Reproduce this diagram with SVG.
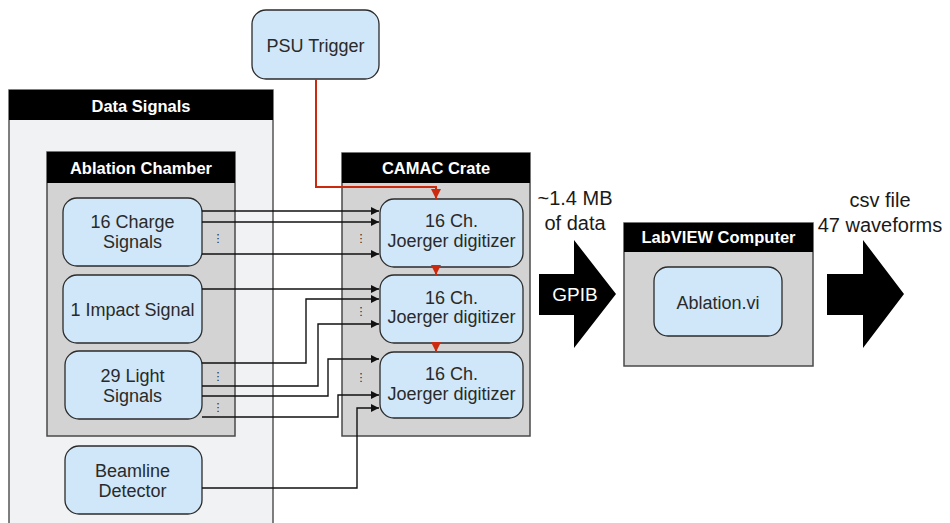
<svg xmlns="http://www.w3.org/2000/svg" width="950" height="523" viewBox="0 0 950 523">
<defs>
<style>
.node{fill:#cfe7f8;stroke:#2b2b2b;stroke-width:1.3}
.cont{fill:#d3d3d3;stroke:#4a4a4a;stroke-width:1.5}
.bar{fill:#000}
.title{font-family:"Liberation Sans",Arial,sans-serif;font-weight:bold;font-size:16.5px;fill:#fff;text-anchor:middle}
.lbl{font-family:"Liberation Sans",Arial,sans-serif;font-size:18px;fill:#2a2a2a;text-anchor:middle}
.ann{font-family:"Liberation Sans",Arial,sans-serif;font-size:20px;fill:#1a1a1a;text-anchor:middle}
.dots{font-family:"DejaVu Sans",sans-serif;font-size:11px;fill:#222;text-anchor:middle}
.wire{fill:none;stroke:#111;stroke-width:1.4}
.red{fill:none;stroke:#cc2a0e;stroke-width:2}
</style>
<marker id="ah" viewBox="0 0 10 10" refX="10" refY="5" markerWidth="9" markerHeight="8" markerUnits="userSpaceOnUse" orient="auto">
<path d="M0,0 L10,5 L0,10 z" fill="#111"/>
</marker>
<marker id="ahr" viewBox="0 0 10 10" refX="10" refY="5" markerWidth="10" markerHeight="11" markerUnits="userSpaceOnUse" orient="auto">
<path d="M0,0 L10,5 L0,10 z" fill="#cc2a0e"/>
</marker>
</defs>
<rect width="950" height="523" fill="#fff"/>

<g id="data-signals">
<rect x="9" y="90" width="264" height="445" fill="#f1f2f4" stroke="#555" stroke-width="1.5"/>
<rect class="bar" x="9" y="90" width="264" height="30"/>
<text class="title" x="141" y="112">Data Signals</text>
</g>

<g id="ablation-chamber">
<rect class="cont" x="47" y="152" width="188" height="284"/>
<rect class="bar" x="47" y="152" width="188" height="31"/>
<text class="title" x="141" y="174">Ablation Chamber</text>
</g>

<g id="camac-crate">
<rect class="cont" x="342" y="153" width="188" height="283"/>
<rect class="bar" x="342" y="153" width="188" height="30"/>
<text class="title" x="436" y="174">CAMAC Crate</text>
</g>

<g id="labview-computer">
<rect class="cont" x="624" y="223" width="189" height="143"/>
<rect class="bar" x="624" y="223" width="189" height="29"/>
<text class="title" x="718.5" y="243">LabVIEW Computer</text>
</g>

<g id="psu-trigger">
<rect class="node" x="252" y="10" width="127" height="69" rx="14"/>
<text class="lbl" x="315.5" y="52">PSU Trigger</text>
</g>

<g id="charge-signals">
<rect class="node" x="63" y="198" width="139" height="68" rx="14"/>
<text class="lbl" x="132.5" y="228">16 Charge</text>
<text class="lbl" x="132.5" y="247.5">Signals</text>
</g>

<g id="impact-signal">
<rect class="node" x="63" y="275" width="139" height="68" rx="14"/>
<text class="lbl" x="132.5" y="316">1 Impact Signal</text>
</g>

<g id="light-signals">
<rect class="node" x="65" y="351" width="137" height="68" rx="14"/>
<text class="lbl" x="132.5" y="382">29 Light</text>
<text class="lbl" x="132.5" y="401.5">Signals</text>
</g>

<g id="beamline-detector">
<rect class="node" x="65" y="446" width="137" height="68" rx="14"/>
<text class="lbl" x="132.5" y="477">Beamline</text>
<text class="lbl" x="132.5" y="496.5">Detector</text>
</g>

<g id="digitizer-1">
<rect class="node" x="380" y="199" width="143" height="68" rx="14"/>
<text class="lbl" x="451.5" y="227">16 Ch.</text>
<text class="lbl" x="451.5" y="246.5">Joerger digitizer</text>
</g>

<g id="digitizer-2">
<rect class="node" x="380" y="275" width="143" height="68" rx="14"/>
<text class="lbl" x="451.5" y="303.5">16 Ch.</text>
<text class="lbl" x="451.5" y="323">Joerger digitizer</text>
</g>

<g id="digitizer-3">
<rect class="node" x="380" y="352" width="143" height="66" rx="14"/>
<text class="lbl" x="451.5" y="380">16 Ch.</text>
<text class="lbl" x="451.5" y="399.5">Joerger digitizer</text>
</g>

<g id="ablation-vi">
<rect class="node" x="654" y="267" width="128" height="69" rx="14"/>
<text class="lbl" x="718" y="309">Ablation.vi</text>
</g>

<g id="gpib-arrow">
<path d="M539,274 L574,274 L574,240 L616,294 L574,348 L574,315 L539,315 z" fill="#000"/>
<text x="575" y="301" font-family="'Liberation Sans',Arial,sans-serif" font-size="19" fill="#fff" text-anchor="middle">GPIB</text>
</g>

<g id="csv-arrow">
<path d="M827,274 L863,274 L863,240 L904,294 L863,348 L863,315 L827,315 z" fill="#000"/>
</g>

<g id="annotations">
<text class="ann" x="575" y="205">~1.4 MB</text>
<text class="ann" x="575" y="230">of data</text>
<text class="ann" x="880" y="207">csv file</text>
<text class="ann" x="880" y="232">47 waveforms</text>
</g>

<g id="connectors">
<path class="wire" marker-end="url(#ah)" d="M202,211 H379"/>
<path class="wire" marker-end="url(#ah)" d="M202,222 H379"/>
<path class="wire" marker-end="url(#ah)" d="M202,254 H379"/>
<path class="wire" marker-end="url(#ah)" d="M202,289 H379"/>
<path class="wire" marker-end="url(#ah)" d="M202,363 H306 V299 H379"/>
<path class="wire" marker-end="url(#ah)" d="M202,386 H318 V324 H379"/>
<path class="wire" marker-end="url(#ah)" d="M202,396 H328 V359 H379"/>
<path class="wire" marker-end="url(#ah)" d="M202,417 H338 V395 H379"/>
<path class="wire" marker-end="url(#ah)" d="M202,488 H357 V408 H379"/>
<path class="red" marker-end="url(#ahr)" d="M316,79 V187 H436 V199"/>
<path class="red" marker-end="url(#ahr)" d="M436,267 V275"/>
<path class="red" marker-end="url(#ahr)" d="M436,343 V352"/>
</g>

<g id="ellipses">
<text class="dots" x="218" y="242">⋮</text>
<text class="dots" x="218" y="380">⋮</text>
<text class="dots" x="218" y="411">⋮</text>
<text class="dots" x="361" y="242">⋮</text>
<text class="dots" x="361" y="315">⋮</text>
<text class="dots" x="361" y="381">⋮</text>
</g>
</svg>
